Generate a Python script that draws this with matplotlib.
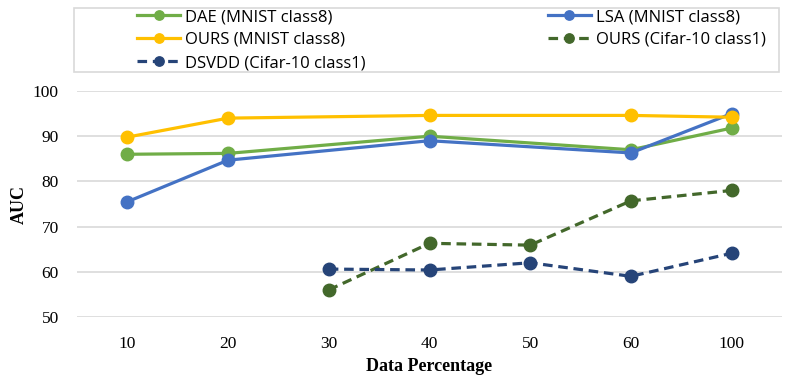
import numpy as np
import matplotlib.pyplot as plt
from matplotlib.patches import Rectangle

categories = ['10', '20', '30', '40', '50', '60', '100']
dae_mnist = [86.0, 86.2, np.nan, 90.0, np.nan, 87.0, 91.8]
lsa_mnist = [75.5, 84.7, np.nan, 89.0, np.nan, 86.3, 95.0]
ours_mnist = [89.8, 94.0, np.nan, 94.6, np.nan, 94.6, 94.2]
ours_cifar = [np.nan, np.nan, 56.0, 66.3, 65.9, 75.7, 78.0]
dsvdd_cifar = [np.nan, np.nan, 60.6, 60.4, 62.0, 59.0, 64.1]

dpi = 100
W, H = 788, 383
fig = plt.figure(figsize=(W/dpi, H/dpi), dpi=dpi)
ax = fig.add_axes([77/W, 1-317/H, 705/W, 226/H])

x = np.arange(len(categories))

def draw(vals, color, label, dashed=False):
    v = np.array(vals, dtype=float)
    m = ~np.isnan(v)
    ls = (0, (3.0, 1.8)) if dashed else '-'
    line, = ax.plot(x[m], v[m], color=color, lw=2.3, ls=ls, marker='o',
                    ms=9, label=label, clip_on=False, zorder=3)
    return line

h_dae = draw(dae_mnist, '#70AD47', 'DAE (MNIST class8)')
h_lsa = draw(lsa_mnist, '#4472C4', 'LSA (MNIST class8)')
h_ours = draw(ours_mnist, '#FFC000', 'OURS (MNIST class8)')
h_oc = draw(ours_cifar, '#43682B', 'OURS (Cifar-10 class1)', dashed=True)
h_ds = draw(dsvdd_cifar, '#264478', 'DSVDD (Cifar-10 class1)', dashed=True)

ax.set_xlim(-0.5, len(categories) - 0.5)
ax.set_ylim(50, 100)
ax.set_yticks([50, 60, 70, 80, 90, 100])
ax.set_xticks(x)
ax.set_xticklabels(categories)
ax.grid(axis='y', color='#D9D9D9', lw=1.2)
ax.set_axisbelow(True)
for s in ax.spines.values():
    s.set_visible(False)
ax.tick_params(length=0, labelsize=12.5, pad=14)
ax.tick_params(axis='y', pad=13)
for t in ax.get_xticklabels() + ax.get_yticklabels():
    t.set_fontfamily('Liberation Serif')

ax.set_xlabel('Data Percentage', fontfamily='Liberation Serif', fontweight='bold',
              fontsize=13, labelpad=4)
ax.set_ylabel('AUC', fontfamily='Liberation Serif', fontweight='bold',
              fontsize=13, labelpad=4)

# legend frame
fig.patches.append(Rectangle((74/W, 1-72/H), 705/W, 64/H, transform=fig.transFigure,
                             fill=False, edgecolor='#D9D9D9', lw=1.2))

leg = fig.legend(handles=[h_dae, h_ours, h_ds, h_lsa, h_oc], ncol=2,
                 loc='upper left', bbox_to_anchor=(137/W, 1-9/H),
                 frameon=False, borderaxespad=0, borderpad=0,
                 prop={'family': 'Open Sans', 'size': 12}, handlelength=2.6,
                 labelspacing=0.42, handletextpad=0.3, markerscale=0.75,
                 columnspacing=10.9)

fig.savefig('out.png', dpi=dpi)
